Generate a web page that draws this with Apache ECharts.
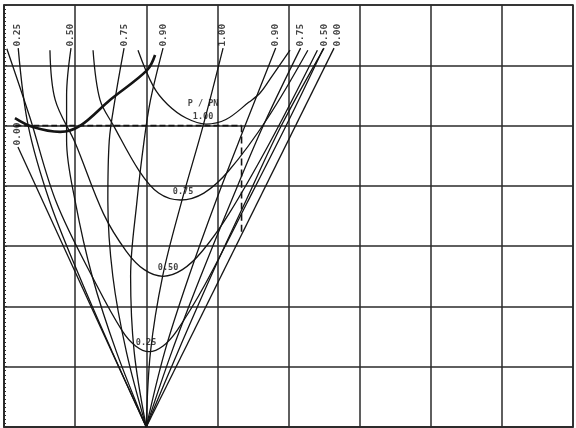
<!DOCTYPE html>
<html><head><meta charset="utf-8">
<script src="https://cdn.jsdelivr.net/npm/echarts/dist/echarts.min.js"></script>
<style>html,body{margin:0;padding:0;background:#fff}#c{width:576px;height:428px}</style>
</head><body><div id="c"></div><script>
// x: excitation (field current, p.u.), y: armature current (p.u.)
// constant power-factor curves (start at no-load point)
const pfLead025 = [[1.0,0],[0.76,0.25],[0.53,0.5],[0.32,0.75],[0.17,1.0],[0.10,1.257]];
const pfLead050 = [[1.0,0],[0.79,0.25],[0.62,0.5],[0.50,0.75],[0.44,0.95],[0.44,1.1],[0.471,1.257]];
const pfLead075 = [[1.0,0],[0.86,0.25],[0.765,0.5],[0.73,0.75],[0.74,0.95],[0.78,1.085],[0.844,1.257]];
const pfLead090 = [[1.0,0],[0.915,0.25],[0.89,0.5],[0.935,0.75],[0.985,0.95],[1.03,1.085],[1.118,1.257]];
const pfUnity   = [[1.0,0],[1.03,0.25],[1.115,0.5],[1.25,0.75],[1.40,1.0],[1.54,1.257]];
const pfLag090  = [[1.0,0],[1.13,0.25],[1.30,0.5],[1.49,0.75],[1.695,1.0],[1.91,1.257]];
const pfLag075  = [[1.0,0],[1.18,0.25],[1.383,0.5],[1.598,0.75],[1.823,1.0],[2.085,1.257]];
const pfLag050  = [[1.0,0],[1.223,0.25],[1.455,0.5],[1.70,0.75],[1.95,1.0],[2.25,1.257]];
const pfLag000  = [[1.0,0],[2.32,1.257]];
const pfLead000 = [[1.0,0],[0.098,0.929]];
// V-curves, constant P/PN
const vCurve025 = [[0.02,1.255],[0.18,1.03],[0.37,0.743],[0.65,0.472],[0.83,0.32],[0.925,0.269],[1.02,0.25],[1.118,0.269],[1.216,0.32],[1.412,0.472],[1.708,0.743],[2.016,1.031],[2.244,1.255]];
const vCurve050 = [[0.323,1.25],[0.36,1.085],[0.50,0.943],[0.70,0.707],[0.86,0.583],[0.986,0.522],[1.118,0.5],[1.254,0.522],[1.393,0.583],[1.581,0.707],[1.868,0.943],[2.203,1.25]];
const vCurve075 = [[0.626,1.25],[0.675,1.085],[0.77,1.0],[0.95,0.85],[1.087,0.776],[1.24,0.753],[1.405,0.776],[1.58,0.85],[1.855,1.026],[2.136,1.25]];
const vCurve100 = [[0.942,1.25],[1.05,1.13],[1.15,1.07],[1.28,1.025],[1.42,1.005],[1.56,1.02],[1.72,1.077],[1.80,1.108],[1.887,1.166],[2.011,1.25]];
// limit curves
const stabilityLimit = [[0.077,1.025],[0.204,0.995],[0.394,0.979],[0.534,0.999],[0.745,1.085],[1.006,1.184],[1.062,1.234]];
const currentLimit = [[0.08,1.0],[1.67,1.0]];
const fieldLimit = [[1.67,1.0],[1.67,0.64]];
// labels
const pfLabelText = ['0.25','0.50','0.75','0.90','1.00','0.90','0.75','0.50','0.00','0.00'];
const pfLabelE    = [0.098,0.471,0.844,1.118,1.533,1.906,2.088,2.25,2.348,0.098];
const pfLabelI    = [1.257,1.257,1.257,1.257,1.257,1.257,1.257,1.257,1.257,0.929];
const pLabelText = ['P / PN','1.00','0.75','0.50','0.25'];
const pLabelE    = [1.399,1.399,1.259,1.153,0.999];
const pLabelI    = [1.072,1.029,0.780,0.528,0.279];

const INK = '#141414';
const GRIDC = '#2a2a2a';
const MONO = '"DejaVu Sans Mono","Liberation Mono",monospace';

function curve(data, width, dash) {
  return {type:'line', data:data, symbol:'none', showSymbol:false, smooth:0.35,
    silent:true, z:3, lineStyle:{color:INK, width:width||1.3, type:dash||'solid'}};
}

const chart = echarts.init(document.getElementById('c'), null, {renderer:'canvas'});
chart.setOption({
  animation:false,
  backgroundColor:'#ffffff',
  grid:{left:4, right:3, top:5, bottom:1, show:true, borderColor:GRIDC, borderWidth:1.6, backgroundColor:'#fff'},
  xAxis:{type:'value', min:0, max:4, interval:0.5,
    axisLabel:{show:false}, axisTick:{show:false},
    axisLine:{show:true, lineStyle:{color:GRIDC, width:1.6}},
    splitLine:{show:true, lineStyle:{color:GRIDC, width:1.5}}},
  yAxis:{type:'value', min:0, max:1.4, interval:0.2,
    axisLabel:{show:false},
    axisTick:{show:true, inside:true, length:3, lineStyle:{color:GRIDC}},
    minorTick:{show:true, splitNumber:15, length:2, lineStyle:{color:GRIDC}},
    axisLine:{show:true, lineStyle:{color:GRIDC, width:1.6}},
    splitLine:{show:true, lineStyle:{color:GRIDC, width:1.5}}},
  series:[
    curve(pfLead025), curve(pfLead050), curve(pfLead075), curve(pfLead090),
    curve(pfUnity), curve(pfLag090), curve(pfLag075), curve(pfLag050),
    curve(pfLag000), curve(pfLead000),
    curve(vCurve025), curve(vCurve050), curve(vCurve075), curve(vCurve100),
    curve(stabilityLimit, 2.6),
    curve(currentLimit, 1.8, [6,3]),
    curve(fieldLimit, 1.6, [7,4]),
    {type:'scatter', silent:true, z:5, symbolSize:1, itemStyle:{color:'rgba(0,0,0,0)'},
      data: pfLabelE.map((e,i)=>[e, pfLabelI[i], pfLabelText[i]]),
      label:{show:true, formatter:p=>p.value[2], rotate:90, position:'top', distance:1,
        align:'left', verticalAlign:'middle', fontFamily:MONO, fontWeight:'bold', fontSize:9.5, color:INK}},
    {type:'scatter', silent:true, z:5, symbolSize:1, itemStyle:{color:'rgba(0,0,0,0)'},
      data: pLabelE.map((e,i)=>[e, pLabelI[i], pLabelText[i]]),
      label:{show:true, formatter:p=>p.value[2], position:'inside',
        fontFamily:MONO, fontWeight:'bold', fontSize:8.5, color:INK}}
  ]
});
</script></body></html>
